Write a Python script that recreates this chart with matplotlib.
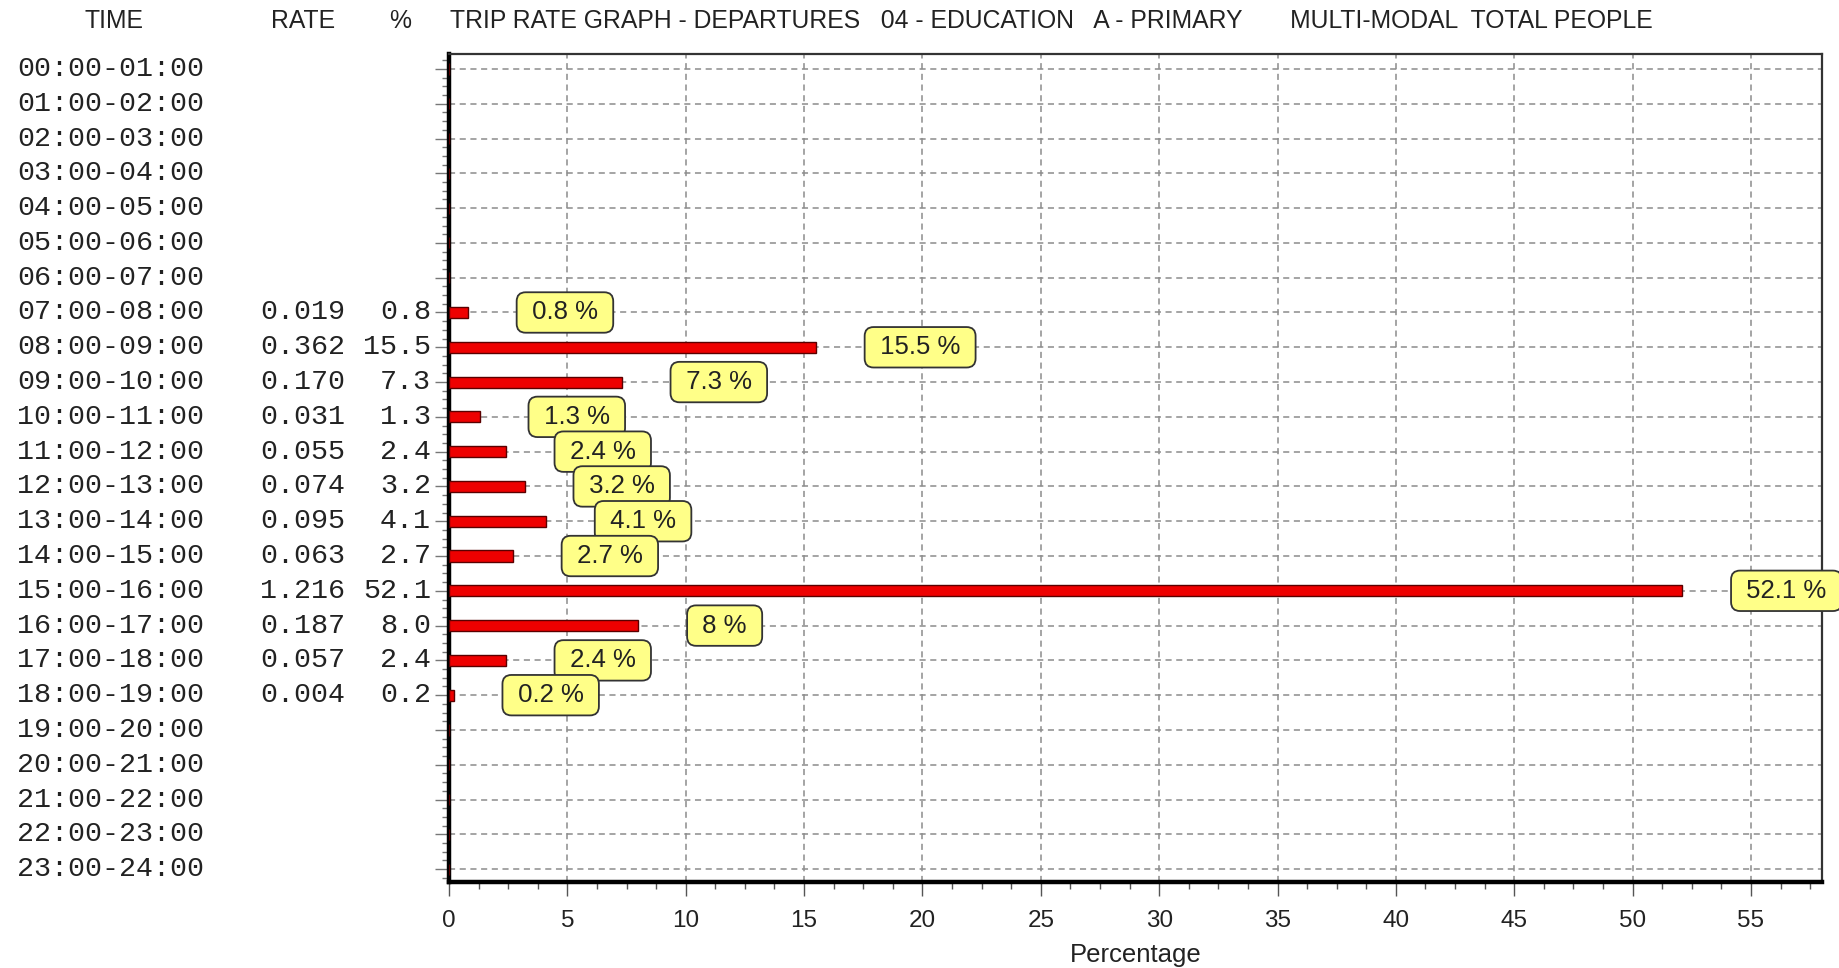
import matplotlib
matplotlib.use("Agg")
import matplotlib.pyplot as plt
from matplotlib.ticker import MultipleLocator

# ─────────────────────────────────────────────
#  Data read off the TRICS departures table
# ─────────────────────────────────────────────
time_slots = [f"{h:02d}:00-{h + 1:02d}:00" for h in range(24)]

rate = [None] * 7 + [0.019, 0.362, 0.170, 0.031, 0.055, 0.074,
                     0.095, 0.063, 1.216, 0.187, 0.057, 0.004] + [None] * 5
pct = [None] * 7 + [0.8, 15.5, 7.3, 1.3, 2.4, 3.2,
                    4.1, 2.7, 52.1, 8.0, 2.4, 0.2] + [None] * 5

x_ticks = [0, 5, 10, 15, 20, 25, 30, 35, 40, 45, 50, 55]

TITLE = ("TRIP RATE GRAPH - DEPARTURES   04 - EDUCATION   A - PRIMARY"
         "       MULTI-MODAL  TOTAL PEOPLE")

# ─────────────────────────────────────────────
#  Styling
# ─────────────────────────────────────────────
SANS = ["Liberation Sans", "DejaVu Sans"]
MONO = ["Liberation Mono", "DejaVu Sans Mono"]
GRID = "#8c8c8c"
BAR_RED = "#ee0000"
BOX_YELLOW = "#ffff88"
TXT = "#222222"

W, H = 1839, 968
fig = plt.figure(figsize=(W / 100, H / 100), dpi=100, facecolor="white")

left, right, top, bottom = 449, 1822, 54, 882
ax = fig.add_axes([left / W, 1 - bottom / H, (right - left) / W, (bottom - top) / H])

ypos = list(range(len(time_slots)))
ax.set_xlim(0, 58.0)
ax.set_ylim(23.37, -0.43)

# grid
ax.set_axisbelow(True)
ax.xaxis.set_major_locator(MultipleLocator(5))
ax.xaxis.set_minor_locator(MultipleLocator(1.25))
ax.set_yticks(ypos)
ax.yaxis.set_minor_locator(MultipleLocator(0.25))
ax.grid(True, which="major", color=GRID, linestyle=(0, (4, 3)), linewidth=1.1)

# bars
vals = [v if v is not None else 0 for v in pct]
ax.barh(ypos, vals, height=0.32, color=BAR_RED, edgecolor="#5a0000",
        linewidth=1.0, zorder=3)

# yellow value boxes
for y, v in zip(ypos, pct):
    if v is None:
        continue
    ax.annotate(f" {v:g} % ", xy=(v, y), xytext=(41, 0), textcoords="offset points",
                ha="left", va="center", fontsize=18.5, family=SANS, color=TXT,
                zorder=5,
                bbox=dict(boxstyle="round,pad=0.32,rounding_size=0.35",
                          fc=BOX_YELLOW, ec="#333333", lw=1.3))

# spines
for side in ("left", "bottom"):
    ax.spines[side].set_linewidth(3.2)
    ax.spines[side].set_color("black")
for side in ("top", "right"):
    ax.spines[side].set_linewidth(1.6)
    ax.spines[side].set_color("#333333")

# ticks
ax.set_xticks(x_ticks)
ax.set_xticklabels([str(t) for t in x_ticks], family=SANS, fontsize=17.5, color=TXT)
ax.tick_params(axis="x", which="major", direction="out", length=10, width=1,
               color="#555555", pad=10)
ax.tick_params(axis="x", which="minor", direction="out", length=5, width=1, color="#555555")
ax.tick_params(axis="y", which="major", direction="out", length=10, width=1,
               color="#777777", labelleft=False)
ax.tick_params(axis="y", which="minor", direction="out", length=5, width=1, color="#777777")
ax.set_xlabel("Percentage", family=SANS, fontsize=18.5, color=TXT, labelpad=8)

# left-hand table: time / rate / %
tr = ax.get_yaxis_transform()
span = right - left
for y, t, r, p in zip(ypos, time_slots, rate, pct):
    ax.text((17 - left) / span, y, t, transform=tr, ha="left", va="center",
            family=MONO, fontsize=20.4, color=TXT, clip_on=False)
    if r is not None:
        ax.text((345 - left) / span, y, f"{r:.3f}", transform=tr, ha="right",
                va="center", family=MONO, fontsize=20.4, color=TXT, clip_on=False)
        ax.text((431 - left) / span, y, f"{p:.1f}", transform=tr, ha="right",
                va="center", family=MONO, fontsize=20.4, color=TXT, clip_on=False)

# header line
hy = 1 - 21 / H
for x, s in [(114, "TIME"), (303, "RATE"), (400, "%")]:
    fig.text(x / W, hy, s, ha="center", va="center", family=SANS, fontsize=17.8, color=TXT)
fig.text(450 / W, hy, TITLE, ha="left", va="center", family=SANS, fontsize=17.8, color=TXT)

fig.savefig("out.png", dpi=100, facecolor="white")
